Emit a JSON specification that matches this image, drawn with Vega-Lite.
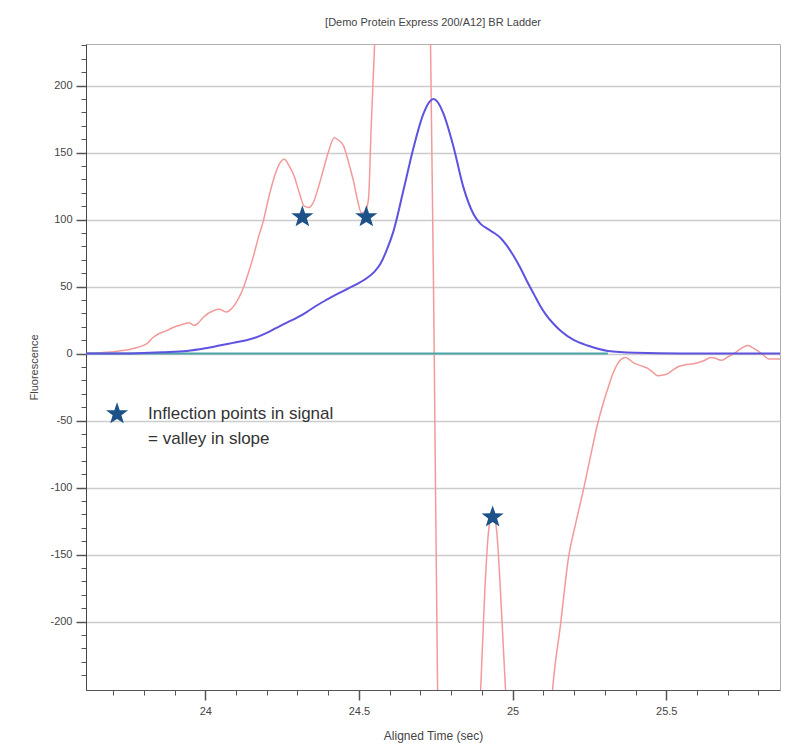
{
  "$schema": "https://vega.github.io/schema/vega-lite/v6.json",
  "autosize": {"type": "none"},
  "width": 694,
  "height": 646,
  "padding": {"left": 86, "top": 44, "right": 6, "bottom": 57},
  "background": "white",
  "title": {
    "text": "[Demo Protein Express 200/A12] BR Ladder",
    "fontSize": 11,
    "font": "Liberation Sans",
    "fontWeight": "normal",
    "color": "#444444",
    "offset": 11,
    "anchor": "middle"
  },
  "config": {
    "view": {"stroke": "#b0b0b0", "strokeWidth": 1},
    "axis": {"labelFont": "Liberation Sans", "titleFont": "Liberation Sans", "labelColor": "#444444", "titleColor": "#444444", "titleFontWeight": "normal"}
  },
  "datasets": {
    "slope": [
      {"t": 23.612, "v": 0}, {"t": 23.68, "v": 1}, {"t": 23.72, "v": 2}, {"t": 23.76, "v": 3.5},
      {"t": 23.785, "v": 5}, {"t": 23.81, "v": 7.5}, {"t": 23.83, "v": 12}, {"t": 23.85, "v": 15},
      {"t": 23.873, "v": 17}, {"t": 23.895, "v": 19.5}, {"t": 23.915, "v": 21}, {"t": 23.948, "v": 23},
      {"t": 23.964, "v": 21}, {"t": 23.978, "v": 23}, {"t": 23.993, "v": 27}, {"t": 24.026, "v": 32},
      {"t": 24.046, "v": 33}, {"t": 24.068, "v": 31}, {"t": 24.091, "v": 35}, {"t": 24.11, "v": 42},
      {"t": 24.124, "v": 49}, {"t": 24.14, "v": 60}, {"t": 24.156, "v": 72}, {"t": 24.172, "v": 86},
      {"t": 24.189, "v": 99}, {"t": 24.205, "v": 115}, {"t": 24.221, "v": 129}, {"t": 24.24, "v": 141},
      {"t": 24.257, "v": 145}, {"t": 24.273, "v": 140}, {"t": 24.29, "v": 132}, {"t": 24.306, "v": 120},
      {"t": 24.322, "v": 110}, {"t": 24.337, "v": 109}, {"t": 24.352, "v": 113}, {"t": 24.368, "v": 124},
      {"t": 24.384, "v": 137}, {"t": 24.4, "v": 150}, {"t": 24.42, "v": 161}, {"t": 24.435, "v": 159},
      {"t": 24.45, "v": 155}, {"t": 24.466, "v": 143}, {"t": 24.482, "v": 129}, {"t": 24.495, "v": 115},
      {"t": 24.508, "v": 105}, {"t": 24.52, "v": 106}, {"t": 24.531, "v": 115}, {"t": 24.54, "v": 170},
      {"t": 24.55, "v": 225}, {"t": 24.56, "v": 285}, {"t": 24.58, "v": 360}, {"t": 24.62, "v": 420},
      {"t": 24.68, "v": 420}, {"t": 24.71, "v": 370}, {"t": 24.725, "v": 290}, {"t": 24.733, "v": 231},
      {"t": 24.745, "v": 0}, {"t": 24.756, "v": -251}, {"t": 24.765, "v": -320}, {"t": 24.8, "v": -400},
      {"t": 24.86, "v": -380}, {"t": 24.885, "v": -300}, {"t": 24.896, "v": -251}, {"t": 24.91, "v": -175},
      {"t": 24.922, "v": -132}, {"t": 24.935, "v": -119}, {"t": 24.948, "v": -132}, {"t": 24.96, "v": -175},
      {"t": 24.977, "v": -251}, {"t": 24.99, "v": -320}, {"t": 25.05, "v": -400}, {"t": 25.11, "v": -320},
      {"t": 25.13, "v": -251}, {"t": 25.156, "v": -202}, {"t": 25.182, "v": -152}, {"t": 25.205, "v": -127},
      {"t": 25.231, "v": -101}, {"t": 25.255, "v": -75}, {"t": 25.277, "v": -52}, {"t": 25.295, "v": -37},
      {"t": 25.31, "v": -26}, {"t": 25.326, "v": -15}, {"t": 25.342, "v": -7.5}, {"t": 25.355, "v": -4},
      {"t": 25.368, "v": -3}, {"t": 25.38, "v": -4.5}, {"t": 25.394, "v": -7}, {"t": 25.417, "v": -9},
      {"t": 25.44, "v": -11}, {"t": 25.457, "v": -14}, {"t": 25.472, "v": -16.5}, {"t": 25.49, "v": -16},
      {"t": 25.505, "v": -15}, {"t": 25.52, "v": -12.5}, {"t": 25.537, "v": -10}, {"t": 25.56, "v": -8.5},
      {"t": 25.59, "v": -7.5}, {"t": 25.62, "v": -5.5}, {"t": 25.645, "v": -3}, {"t": 25.66, "v": -3.5},
      {"t": 25.678, "v": -5}, {"t": 25.7, "v": -2.5}, {"t": 25.72, "v": 0}, {"t": 25.745, "v": 4},
      {"t": 25.765, "v": 6}, {"t": 25.78, "v": 4.5}, {"t": 25.798, "v": 2}, {"t": 25.815, "v": -1},
      {"t": 25.834, "v": -4}, {"t": 25.87, "v": -4}
    ],
    "baseline": [
      {"t": 23.612, "v": 0}, {"t": 25.31, "v": 0}
    ],
    "signal": [
      {"t": 23.612, "v": 0}, {"t": 23.7, "v": 0}, {"t": 23.78, "v": 0.3}, {"t": 23.86, "v": 1},
      {"t": 23.94, "v": 2}, {"t": 24.0, "v": 4}, {"t": 24.046, "v": 6}, {"t": 24.09, "v": 8},
      {"t": 24.134, "v": 10}, {"t": 24.17, "v": 12.5}, {"t": 24.2, "v": 15.5}, {"t": 24.23, "v": 19},
      {"t": 24.264, "v": 23}, {"t": 24.3, "v": 27}, {"t": 24.33, "v": 31}, {"t": 24.36, "v": 35.5},
      {"t": 24.394, "v": 40}, {"t": 24.43, "v": 44.5}, {"t": 24.46, "v": 48}, {"t": 24.49, "v": 51.5},
      {"t": 24.524, "v": 56}, {"t": 24.55, "v": 61}, {"t": 24.57, "v": 67}, {"t": 24.59, "v": 77},
      {"t": 24.612, "v": 91}, {"t": 24.645, "v": 122}, {"t": 24.678, "v": 154}, {"t": 24.71, "v": 179},
      {"t": 24.73, "v": 188}, {"t": 24.743, "v": 190}, {"t": 24.755, "v": 188}, {"t": 24.775, "v": 179},
      {"t": 24.808, "v": 154}, {"t": 24.84, "v": 124}, {"t": 24.873, "v": 104}, {"t": 24.895, "v": 97},
      {"t": 24.919, "v": 93}, {"t": 24.94, "v": 90}, {"t": 24.96, "v": 86.5}, {"t": 24.98, "v": 81},
      {"t": 25.003, "v": 73}, {"t": 25.025, "v": 64}, {"t": 25.049, "v": 53}, {"t": 25.07, "v": 44},
      {"t": 25.09, "v": 35.5}, {"t": 25.11, "v": 28.5}, {"t": 25.13, "v": 23}, {"t": 25.156, "v": 17},
      {"t": 25.2, "v": 10}, {"t": 25.244, "v": 6}, {"t": 25.31, "v": 2}, {"t": 25.4, "v": 0.6},
      {"t": 25.55, "v": 0}, {"t": 25.7, "v": 0}, {"t": 25.87, "v": 0}
    ],
    "stars": [
      {"t": 24.316, "v": 102}, {"t": 24.524, "v": 102}, {"t": 24.935, "v": -122}, {"t": 23.713, "v": -45}
    ],
    "notes": [
      {"t": 23.814, "v": -45, "label": "Inflection points in signal"},
      {"t": 23.814, "v": -64, "label": "= valley in slope"}
    ]
  },
  "encoding": {
    "x": {
      "field": "t", "type": "quantitative",
      "scale": {"domain": [23.612, 25.87], "nice": false, "zero": false},
      "axis": {
        "title": "Aligned Time (sec)",
        "titleFontSize": 12,
        "titlePadding": 14,
        "values": [23.7, 23.8, 23.9, 24, 24.1, 24.2, 24.3, 24.4, 24.5, 24.6, 24.7, 24.8, 24.9, 25, 25.1, 25.2, 25.3, 25.4, 25.5, 25.6, 25.7, 25.8],
        "labelExpr": "abs(datum.value*2 - round(datum.value*2)) < 0.001 ? format(datum.value, '.3~g') : ''",
        "labelFontSize": 11,
        "labelPadding": 5,
        "grid": false,
        "domainColor": "#555555",
        "tickColor": "#555555",
        "tickWidth": {"condition": {"test": "abs(datum.value*2 - round(datum.value*2)) < 0.001", "value": 1.5}, "value": 1},
        "tickSize": {"condition": {"test": "abs(datum.value*2 - round(datum.value*2)) < 0.001", "value": 10}, "value": 5},
        "labelFlush": false,
        "labelOverlap": false
      }
    },
    "y": {
      "field": "v", "type": "quantitative",
      "scale": {"domain": [-251, 231], "nice": false, "zero": false},
      "axis": {
        "title": "Fluorescence",
        "titleFontSize": 11,
        "titlePadding": 10,
        "values": [-240, -230, -220, -210, -200, -190, -180, -170, -160, -150, -140, -130, -120, -110, -100, -90, -80, -70, -60, -50, -40, -30, -20, -10, 0, 10, 20, 30, 40, 50, 60, 70, 80, 90, 100, 110, 120, 130, 140, 150, 160, 170, 180, 190, 200, 210, 220, 230],
        "labelExpr": "datum.value % 50 === 0 ? (datum.value < 0 ? '-' + abs(datum.value) : '' + datum.value) : ''",
        "labelFontSize": 11,
        "labelPadding": 4,
        "grid": true,
        "gridColor": "#cccccc",
        "gridWidth": 1.5,
        "gridOpacity": {"condition": {"test": "datum.value % 50 === 0", "value": 1}, "value": 0},
        "domainColor": "#444444",
        "tickColor": "#555555",
        "tickWidth": {"condition": {"test": "datum.value % 50 === 0", "value": 1.5}, "value": 1},
        "tickSize": {"condition": {"test": "datum.value % 50 === 0", "value": 10}, "value": 5},
        "labelOverlap": false
      }
    }
  },
  "layer": [
    {
      "data": {"name": "slope"},
      "mark": {"type": "line", "clip": true, "color": "#f29a9a", "strokeWidth": 1.5, "interpolate": "monotone"}
    },
    {
      "data": {"name": "baseline"},
      "mark": {"type": "line", "clip": true, "color": "#4aa5a8", "strokeWidth": 2}
    },
    {
      "data": {"name": "signal"},
      "mark": {"type": "line", "clip": true, "color": "#5e52e0", "strokeWidth": 2, "interpolate": "monotone"}
    },
    {
      "data": {"name": "stars"},
      "mark": {"type": "point", "filled": true, "color": "#1d5288", "opacity": 1, "size": 540,
        "shape": "M0,-1L0.235,-0.324L0.951,-0.309L0.38,0.124L0.588,0.809L0,0.43L-0.588,0.809L-0.38,0.124L-0.951,-0.309L-0.235,-0.324Z"}
    },
    {
      "data": {"name": "notes"},
      "mark": {"type": "text", "align": "left", "baseline": "middle", "fontSize": 17, "font": "Liberation Sans", "color": "#333333"},
      "encoding": {"text": {"field": "label"}}
    }
  ]
}
